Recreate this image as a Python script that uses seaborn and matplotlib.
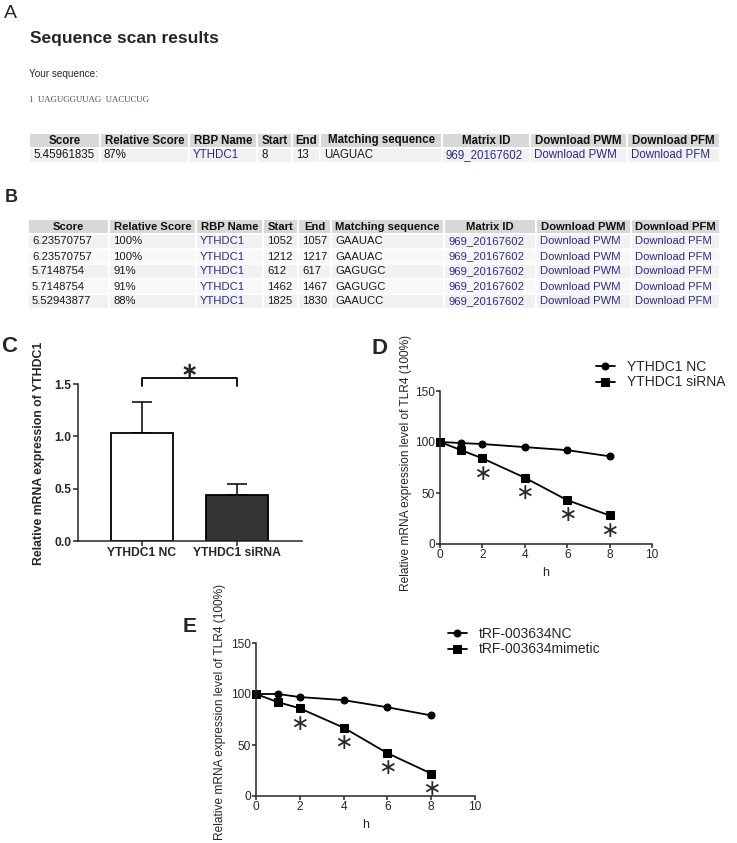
import numpy as np
import pandas as pd
import matplotlib
matplotlib.use("Agg")
import matplotlib.pyplot as plt
import seaborn as sns

# ---- table data (panel A / B) ----
scan_header = ["Score", "Relative Score", "RBP Name", "Start", "End",
               "Matching sequence", "Matrix ID", "Download PWM", "Download PFM"]
a_score = ["5.45961835"]
a_rel = ["87%"]
a_start = ["8"]
a_end = ["13"]
a_match = ["UAGUAC"]

b_score = ["6.23570757", "6.23570757", "5.7148754", "5.7148754", "5.52943877"]
b_rel = ["100%", "100%", "91%", "91%", "88%"]
b_start = ["1052", "1212", "612", "1462", "1825"]
b_end = ["1057", "1217", "617", "1467", "1830"]
b_match = ["GAAUAC", "GAAUAC", "GAGUGC", "GAGUGC", "GAAUCC"]

rbp_name = "YTHDC1"
matrix_id = "969_20167602"
your_sequence = "1  UAGUGGUUAG  UACUCUG"

# ---- panel C ----
bar_groups = ["YTHDC1 NC", "YTHDC1 siRNA"]
bar_mean = [1.03, 0.44]
bar_err = [0.30, 0.10]

# ---- panel D / E ----
hours = [0, 1, 2, 4, 6, 8]
star_hours = [2, 4, 6, 8]
d_nc = [100, 99, 98, 95, 92, 86]
d_si = [100, 92, 84, 65, 43, 28]
e_nc = [100, 100, 97, 94, 87, 79]
e_mim = [100, 92, 86, 67, 42, 22]

sns.set_style("ticks")
plt.rcParams["font.family"] = ["Liberation Sans", "DejaVu Sans"]
plt.rcParams["axes.linewidth"] = 1.1

W, H = 737, 843
fig = plt.figure(figsize=(W / 100, H / 100), dpi=100)


def px(x0, y0, x1, y1):
    # pixel box -> figure fraction rect
    return [x0 / W, 1 - y1 / H, (x1 - x0) / W, (y1 - y0) / H]


def letter(x, y, s, size, weight="bold"):
    fig.text(x / W, 1 - y / H, s, fontsize=size, fontweight=weight,
             ha="left", va="center")


LINK = "#2b2d8c"


def draw_table(edges, y0, y1, rows, fsize):
    ax = fig.add_axes(px(edges[0], y0, edges[-1], y1))
    ax.axis("off")
    widths = np.diff(edges)
    tab = ax.table(cellText=rows, colLabels=scan_header, colWidths=widths / widths.sum(),
                   cellLoc="left", colLoc="center", bbox=[0, 0, 1, 1])
    tab.auto_set_font_size(False)
    tab.set_fontsize(fsize)
    for (r, c), cell in tab.get_celld().items():
        cell.set_edgecolor("white")
        cell.set_linewidth(1.4)
        cell.PAD = 4.0 / widths[c]
        txt = cell.get_text()
        if r == 0:
            cell.set_facecolor("#d8d8d8")
            txt.set_fontweight("bold")
            txt.set_color("#111111")
        else:
            cell.set_facecolor("#f1f1f1" if r % 2 else "#f8f8f8")
            txt.set_color(LINK if c in (2, 6, 7, 8) else "#1a1a1a")
    return ax


# ---- panel A ----
letter(4, 14, "A", 14, "normal")
fig.text(30 / W, 1 - 38 / H, "Sequence scan results", fontsize=12.5,
         fontweight="bold", va="center", ha="left")
fig.text(29 / W, 1 - 74 / H, "Your sequence:", fontsize=7.2, va="center", ha="left")
fig.text(29 / W, 1 - 100 / H, your_sequence, fontsize=6.3, va="center", ha="left",
         family=["Liberation Serif", "DejaVu Serif"], color="#5a4a3a")

rows_a = [[a_score[i], a_rel[i], rbp_name, a_start[i], a_end[i], a_match[i],
           matrix_id, "Download PWM", "Download PFM"] for i in range(len(a_score))]
draw_table([29, 100, 189, 257, 292, 320, 442, 530, 627, 720], 133, 163, rows_a, 8.3)

# ---- panel B ----
letter(5, 198, "B", 13)
rows_b = [[b_score[i], b_rel[i], rbp_name, b_start[i], b_end[i], b_match[i],
           matrix_id, "Download PWM", "Download PFM"] for i in range(len(b_score))]
draw_table([28, 109, 196, 263, 298, 331, 444, 536, 631, 720], 219, 309, rows_b, 8.1)

# ---- panel C ----
letter(1, 346, "C", 16)
axc = fig.add_axes(px(78, 384, 302, 541))
sns.barplot(x=bar_groups, y=bar_mean, hue=bar_groups, legend=False,
            palette=["white", "#333333"], edgecolor="black", linewidth=1.3,
            width=0.65, errorbar=None, ax=axc)
axc.errorbar(x=[0, 1], y=bar_mean, yerr=[[0, 0], bar_err], fmt="none",
             ecolor="black", elinewidth=1.1, capsize=7, capthick=1.1, zorder=0)
axc.set_xlim(-0.67, 1.68)
axc.set_ylim(0, 1.5)
axc.set_yticks([0, 0.5, 1.0, 1.5])
axc.set_yticklabels(["0.0", "0.5", "1.0", "1.5"])
sns.despine(ax=axc)
axc.tick_params(length=3.6, width=1.1, pad=1)
for t in axc.get_xticklabels() + axc.get_yticklabels():
    t.set_fontweight("bold")
    t.set_fontsize(8.7)
# significance bracket
axc.plot([0, 0, 1, 1], [1.48, 1.56, 1.56, 1.48], color="black", lw=1.3, clip_on=False)
axc.text(0.5, 1.62, "∗", family="DejaVu Sans", fontweight="bold", fontsize=15,
         ha="center", va="center")
fig.text(39 / W, 1 - 453 / H, "Relative mRNA expression of YTHDC1", rotation=90,
         fontsize=8.8, fontweight="bold", ha="center", va="center")


# ---- panels D / E ----
def decay_panel(box, nc, treat, labels, leg_xy, ylab_xy, xlab_y):
    ax = fig.add_axes(px(*box))
    sns.lineplot(x=hours, y=nc, marker="o", color="black", markersize=5,
                 markeredgecolor="black", linewidth=1.3, label=labels[0], ax=ax,
                 clip_on=False)
    sns.lineplot(x=hours, y=treat, marker="s", color="black", markersize=5.2,
                 markeredgecolor="black", linewidth=1.3, label=labels[1], ax=ax,
                 clip_on=False)
    star_y = [treat[hours.index(h)] - 15 for h in star_hours]
    for sx, sy in zip(star_hours, star_y):
        ax.text(sx, sy, "∗", family="DejaVu Sans", fontsize=16, ha="center",
                va="center", color="#2a2a2a")
    ax.set_xlim(0, 10)
    ax.set_ylim(0, 150)
    ax.set_xticks([0, 2, 4, 6, 8, 10])
    ax.set_yticks([0, 50, 100, 150])
    sns.despine(ax=ax)
    ax.tick_params(length=3, width=1.1, pad=0.8, labelsize=8.6)
    ax.set_xlabel("")
    ax.set_ylabel("")
    fig.text((box[0] + box[2]) / 2 / W, 1 - xlab_y / H, "h", fontsize=9,
             ha="center", va="center")
    fig.text(ylab_xy[0] / W, 1 - ylab_xy[1] / H,
             "Relative mRNA expression level of TLR4 (100%)", rotation=90,
             fontsize=8.6, ha="center", va="center")
    ax.legend(loc="upper left", bbox_to_anchor=(leg_xy[0] / W, 1 - leg_xy[1] / H),
              bbox_transform=fig.transFigure, frameon=False, fontsize=10,
              borderpad=0, borderaxespad=0, handlelength=1.35, handletextpad=0.9,
              labelspacing=0.1)
    return ax


letter(371, 349, "D", 16)
decay_panel((440, 391, 652, 544), d_nc, d_si, ["YTHDC1 NC", "YTHDC1 siRNA"],
            (596, 360), (406, 463), 573)

letter(183, 626, "E", 15)
decay_panel((256, 643, 475, 796), e_nc, e_mim, ["tRF-003634NC", "tRF-003634mimetic"],
            (448, 627), (220, 712), 825)

fig.savefig("out.png", dpi=100)
